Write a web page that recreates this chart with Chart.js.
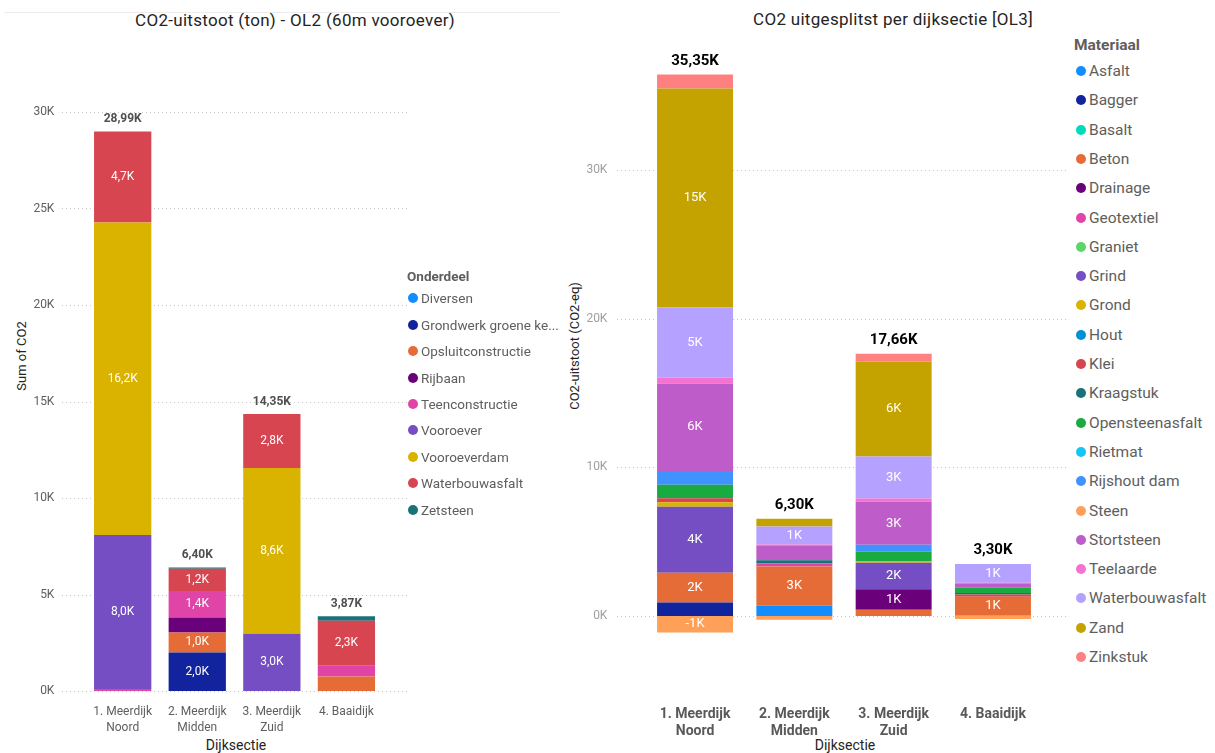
<!DOCTYPE html>
<html>
<head>
<meta charset="utf-8">
<script src="https://cdn.jsdelivr.net/npm/chart.js@4.4.1/dist/chart.umd.min.js"></script>
<style>
  body { margin:0; width:1215px; height:753px; background:#fff; position:relative; overflow:hidden; font-family: Roboto, 'Open Sans', sans-serif; }
  canvas { position:absolute; top:0; }
  .topline { position:absolute; top:12px; left:4px; width:556px; height:1px; background:#EDEBE9; }
  .title { position:absolute; font-size:17px; letter-spacing:0.3px; color:#252423; white-space:nowrap; transform:translate(-50%,-50%); }
  .axtitle { position:absolute; color:#252423; white-space:nowrap; transform:translate(-50%,-50%); }
  .rot { transform:translate(-50%,-50%) rotate(-90deg); }
  .lg { position:absolute; white-space:nowrap; color:#605E5C; }
  .lg .dot { position:absolute; border-radius:50%; }
  .lgtitle { position:absolute; font-weight:bold; color:#605E5C; white-space:nowrap; transform:translateY(-50%); }
</style>
</head>
<body>
<div class="topline"></div>
<div class="title" style="left:295px;top:20px">CO2-uitstoot (ton) - OL2 (60m vooroever)</div>
<div class="title" style="left:893px;top:19px">CO2 uitgesplitst per dijksectie [OL3]</div>
<div class="axtitle rot" style="left:21px;top:356px;font-size:13px">Sum of CO2</div>
<div class="axtitle rot" style="left:574px;top:346px;font-size:13px">CO2-uitstoot (CO2-eq)</div>
<div class="axtitle" style="left:236px;top:745px;font-size:14px">Dijksectie</div>
<div class="axtitle" style="left:845px;top:745px;font-size:14px">Dijksectie</div>

<canvas id="ol2" width="410" height="753" style="left:0"></canvas>
<canvas id="ol3" width="510" height="753" style="left:560px"></canvas>
<div id="legend2"></div>
<div id="legend3"></div>

<script>
// Dijksecties (x-as)
const categories = [['1. Meerdijk', 'Noord'], ['2. Meerdijk', 'Midden'], ['3. Meerdijk', 'Zuid'], ['4. Baaidijk']];

// OL2 - per onderdeel, waarden in K ton
const onderdelen = ['Diversen', 'Grondwerk groene ke...', 'Opsluitconstructie', 'Rijbaan', 'Teenconstructie',
                    'Vooroever', 'Vooroeverdam', 'Waterbouwasfalt', 'Zetsteen'];
const onderdeelKleuren = ['#118DFF', '#12239E', '#E66C37', '#6B007B', '#E044A7', '#744EC2', '#D9B300', '#D64550', '#197278'];
const diversen = [0, 0, 0, 0];
const grondwerk = [0, 2.0, 0, 0];
const opsluitconstructie = [0, 1.03, 0, 0.75];
const rijbaan = [0, 0.78, 0, 0];
const teenconstructie = [0.1, 1.37, 0, 0.56];
const vooroever = [7.98, 0, 2.96, 0];
const vooroeverdam = [16.2, 0, 8.59, 0];
const waterbouwasfaltOL2 = [4.71, 1.16, 2.8, 2.33];
const zetsteen = [0, 0.06, 0, 0.23];
const ol2Waarden = [diversen, grondwerk, opsluitconstructie, rijbaan, teenconstructie, vooroever, vooroeverdam, waterbouwasfaltOL2, zetsteen];
const ol2Ticks = [0, 5, 10, 15, 20, 25, 30];

// OL3 - per materiaal, waarden in K CO2-eq
const materialen = ['Asfalt', 'Bagger', 'Basalt', 'Beton', 'Drainage', 'Geotextiel', 'Graniet', 'Grind', 'Grond', 'Hout', 'Klei',
                    'Kraagstuk', 'Opensteenasfalt', 'Rietmat', 'Rijshout dam', 'Steen', 'Stortsteen', 'Teelaarde',
                    'Waterbouwasfalt', 'Zand', 'Zinkstuk'];
const materiaalKleuren = ['#118DFF', '#12239E', '#00DBBC', '#E66C37', '#6B007B', '#E044A7', '#5BD667', '#744EC2', '#D9B300', '#0091D5', '#D64550',
                          '#197278', '#1AAB40', '#15C6F4', '#4092FF', '#FFA058', '#BE5DC9', '#F472D0',
                          '#B5A1FF', '#C4A200', '#FF8080'];
const asfalt = [0, 0.69, 0, 0];
const bagger = [0.92, 0, 0, 0];
const basalt = [0, 0, 0, 0.05];
const beton = [1.99, 2.65, 0.42, 1.25];
const drainage = [0, 0, 1.39, 0];
const geotextiel = [0, 0.2, 0, 0];
const graniet = [0, 0, 0, 0];
const grind = [4.45, 0, 1.77, 0];
const grond = [0.3, 0, 0.1, 0];
const hout = [0, 0, 0, 0];
const klei = [0.27, 0, 0, 0.15];
const kraagstuk = [0, 0.22, 0, 0.1];
const opensteenasfalt = [0.9, 0, 0.65, 0.36];
const rietmat = [0, 0, 0, 0];
const rijshoutDam = [0.94, 0, 0.47, 0];
const steen = [-1.1, -0.25, 0, -0.2];
const stortsteen = [5.88, 0.96, 2.89, 0.25];
const teelaarde = [0.4, 0.1, 0.22, 0.09];
const waterbouwasfaltOL3 = [4.71, 1.2, 2.83, 1.25];
const zand = [14.75, 0.53, 6.4, 0];
const zinkstuk = [0.94, 0, 0.52, 0];
const ol3Waarden = [asfalt, bagger, basalt, beton, drainage, geotextiel, graniet, grind, grond, hout, klei, kraagstuk,
                    opensteenasfalt, rietmat, rijshoutDam, steen, stortsteen, teelaarde, waterbouwasfaltOL3, zand, zinkstuk];
const ol3Ticks = [0, 10, 20, 30];

const FONT = 'Roboto, "Open Sans", sans-serif';

// gestippelde rasterlijnen, langer dan het plotgebied (zoals Power BI)
function dottedGrid(x0, x1) {
    return {
        id: 'dottedGrid',
        beforeDatasetsDraw(chart) {
            const ctx = chart.ctx, y = chart.scales.y;
            ctx.save();
            ctx.strokeStyle = '#C8C6C4';
            ctx.lineWidth = 1;
            ctx.setLineDash([1, 3]);
            y.ticks.forEach(t => {
                const py = Math.round(y.getPixelForValue(t.value)) + 0.5;
                ctx.beginPath();
                ctx.moveTo(x0, py);
                ctx.lineTo(x1, py);
                ctx.stroke();
            });
            ctx.restore();
        }
    };
}

// labels in de segmenten en totalen boven de staven
function barLabels(fmtSeg, fmtTotal, segFont, totFont, totColor, totGap) {
    return {
        id: 'barLabels',
        afterDatasetsDraw(chart) {
            const ctx = chart.ctx, y = chart.scales.y;
            ctx.save();
            ctx.textAlign = 'center';
            ctx.textBaseline = 'middle';
            ctx.font = segFont;
            ctx.fillStyle = '#fff';
            chart.data.datasets.forEach((ds, di) => {
                chart.getDatasetMeta(di).data.forEach((bar, i) => {
                    const v = ds.data[i];
                    if (Math.abs(v) < 1) return;
                    ctx.fillText(fmtSeg(v), bar.x, (bar.y + bar.base) / 2);
                });
            });
            ctx.font = totFont;
            ctx.fillStyle = totColor;
            chart.data.labels.forEach((lab, i) => {
                let pos = 0, net = 0;
                chart.data.datasets.forEach(ds => {
                    net += ds.data[i];
                    if (ds.data[i] > 0) pos += ds.data[i];
                });
                const x = chart.getDatasetMeta(0).data[i].x;
                ctx.fillText(fmtTotal(net), x, y.getPixelForValue(pos) - totGap);
            });
            ctx.restore();
        }
    };
}

function makeDatasets(names, colors, values, barPct) {
    return names.map((n, k) => ({
        label: n,
        data: values[k],
        backgroundColor: colors[k],
        borderWidth: 0,
        barPercentage: barPct,
        categoryPercentage: 1
    }));
}

const comma = s => s.replace('.', ',');

// Grafiek OL2
new Chart(document.getElementById('ol2'), {
    type: 'bar',
    data: { labels: categories, datasets: makeDatasets(onderdelen, onderdeelKleuren, ol2Waarden, 0.768) },
    options: {
        responsive: false,
        animation: false,
        devicePixelRatio: 1,
        layout: { padding: { top: 112, right: 26.3, left: 0, bottom: 0 } },
        plugins: { legend: { display: false }, tooltip: { enabled: false } },
        scales: {
            x: {
                stacked: true,
                grid: { display: false, drawTicks: false },
                border: { display: false },
                ticks: { color: '#605E5C', font: { family: FONT, size: 12, lineHeight: 1.33 }, padding: 13, maxRotation: 0, autoSkip: false },
                afterFit: s => { s.height = 62; }
            },
            y: {
                stacked: true,
                min: 0,
                max: 30,
                afterBuildTicks: s => { s.ticks = ol2Ticks.map(v => ({ value: v })); },
                grid: { display: false, drawTicks: false },
                border: { display: false },
                ticks: { color: '#605E5C', font: { family: FONT, size: 12 }, padding: 31, callback: v => v + 'K' },
                afterFit: s => { s.width = 85.4; }
            }
        }
    },
    plugins: [
        dottedGrid(62, 407),
        barLabels(v => comma(v.toFixed(1)) + 'K', v => comma(v.toFixed(2)) + 'K',
                  '12px ' + FONT, 'bold 12px ' + FONT, '#505050', 12)
    ]
});

// Grafiek OL3
new Chart(document.getElementById('ol3'), {
    type: 'bar',
    data: { labels: categories, datasets: makeDatasets(materialen, materiaalKleuren, ol3Waarden, 0.765) },
    options: {
        responsive: false,
        animation: false,
        devicePixelRatio: 1,
        layout: { padding: { top: 50, right: 27.4, left: 0, bottom: 0 } },
        plugins: { legend: { display: false }, tooltip: { enabled: false } },
        scales: {
            x: {
                stacked: true,
                grid: { display: false, drawTicks: false },
                border: { display: false },
                ticks: { color: '#595959', font: { family: FONT, size: 14, weight: 'bold', lineHeight: 1.2 }, padding: 6, maxRotation: 0, autoSkip: false },
                afterFit: s => { s.height = 53; }
            },
            y: {
                stacked: true,
                min: -5.65,
                max: 38.1,
                afterBuildTicks: s => { s.ticks = ol3Ticks.map(v => ({ value: v })); },
                grid: { display: false, drawTicks: false },
                border: { display: false },
                ticks: { color: '#A19F9D', font: { family: FONT, size: 12 }, padding: 38, callback: v => v + 'K' },
                afterFit: s => { s.width = 85.4; }
            }
        }
    },
    plugins: [
        dottedGrid(57, 508),
        barLabels(v => Math.round(v) + 'K', v => comma(v.toFixed(2)) + 'K',
                  '13px ' + FONT, 'bold 15px ' + FONT, '#000', 13.5)
    ]
});

// Legenda's als HTML-tekst
function buildLegend(el, title, names, colors, o) {
    let html = `<div class="lgtitle" style="left:${o.titleX}px;top:${o.titleY}px;font-size:${o.size}px">${title}</div>`;
    names.forEach((n, i) => {
        const cy = o.y0 + i * o.dy;
        html += `<div class="lg" style="left:${o.textX}px;top:${cy - 10}px;line-height:20px;font-size:${o.size}px">` +
                `<span class="dot" style="left:${o.dotX - o.textX - o.r}px;top:${10 - o.r}px;width:${2 * o.r}px;height:${2 * o.r}px;background:${colors[i]}"></span>${n}</div>`;
    });
    el.innerHTML = html;
}

buildLegend(document.getElementById('legend2'), 'Onderdeel', onderdelen, onderdeelKleuren,
            { titleX: 407, titleY: 276, y0: 298.3, dy: 26.4, dotX: 413, textX: 421, r: 5, size: 13.5 });
buildLegend(document.getElementById('legend3'), 'Materiaal', materialen, materiaalKleuren,
            { titleX: 1074, titleY: 45, y0: 71, dy: 29.3, dotX: 1080.5, textX: 1089, r: 5, size: 15.5 });
</script>
</body>
</html>
